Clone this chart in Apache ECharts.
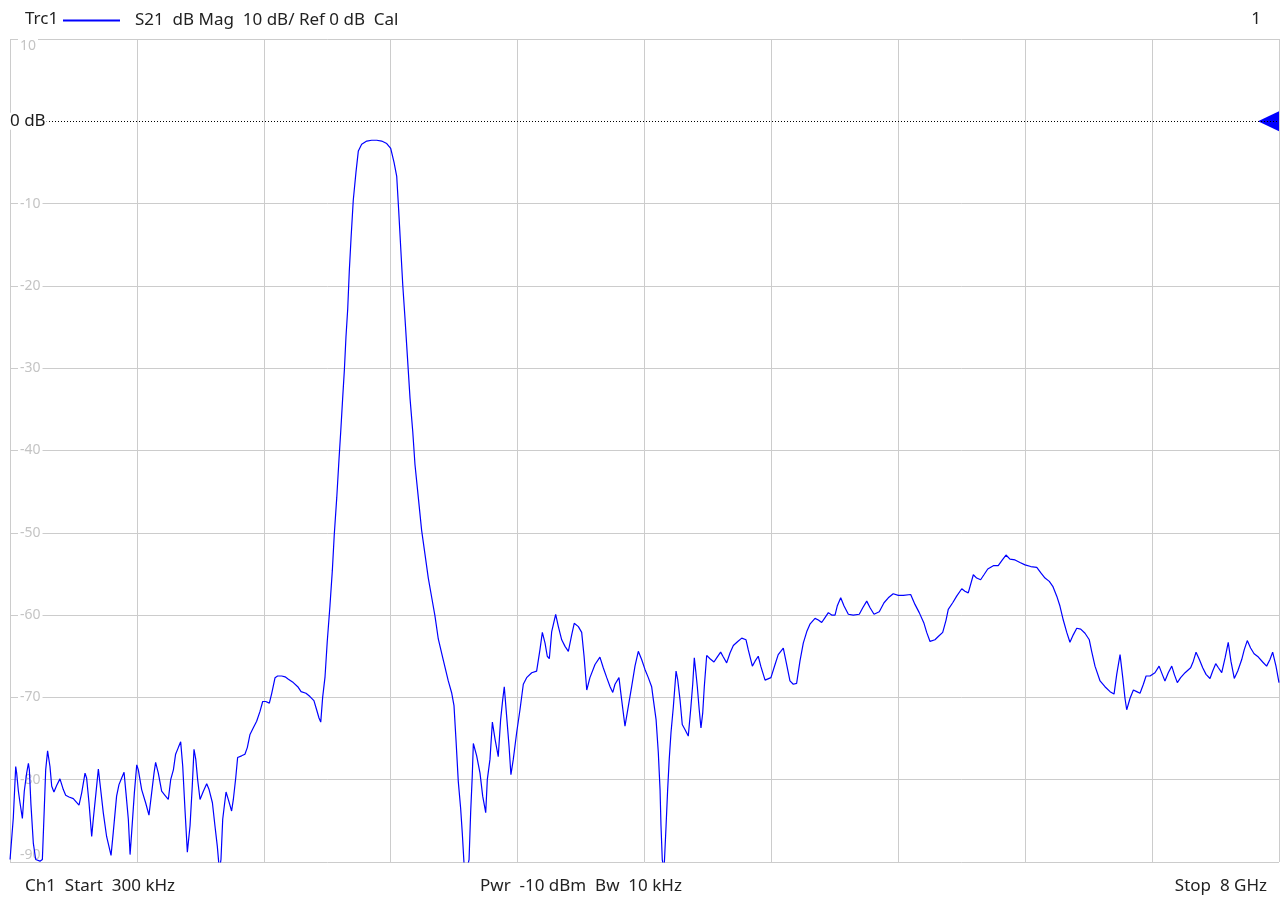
<!DOCTYPE html>
<html>
<head>
<meta charset="utf-8">
<script src="https://cdn.jsdelivr.net/npm/echarts@6/dist/echarts.min.js"></script>
<style>
html,body{margin:0;padding:0;background:#fff;}
#chart{width:1281px;height:897px;}
</style>
</head>
<body>
<div id="chart"></div>
<script>
// Frequency (GHz) of each trace point
const freqGHz = [
0.0003,0.021,0.036,0.042,0.053,0.063,0.078,0.090,0.105,0.116,0.122,0.132,0.147,0.162,0.189,0.204,0.216,0.225,0.237,0.252,
0.263,0.277,0.294,0.315,0.336,0.351,0.372,0.399,0.435,0.452,0.473,0.483,0.498,0.515,0.525,0.542,0.557,0.567,0.588,0.609,
0.637,0.651,0.672,0.687,0.704,0.719,0.731,0.746,0.757,0.767,0.784,0.799,0.809,0.830,0.855,0.876,0.893,0.908,0.918,0.935,
0.956,0.977,0.998,1.013,1.030,1.044,1.061,1.076,1.089,1.103,1.118,1.135,1.149,1.160,1.171,1.183,1.198,1.219,1.240,1.255,
1.276,1.292,1.307,1.320,1.330,1.341,1.351,1.362,1.376,1.397,1.408,1.423,1.435,1.460,1.481,1.496,1.513,1.534,1.555,1.576,
1.593,1.612,1.635,1.650,1.671,1.687,1.713,1.734,1.755,1.786,1.814,1.835,1.866,1.891,1.916,1.933,1.948,1.959,1.971,1.986,
2.000,2.017,2.032,2.044,2.060,2.074,2.085,2.097,2.108,2.118,2.129,2.139,2.150,2.164,2.181,2.196,2.217,2.249,2.280,2.312,
2.343,2.375,2.400,2.421,2.438,2.450,2.463,2.476,2.490,2.505,2.522,2.539,2.553,2.574,2.595,2.616,2.637,2.658,2.679,2.700,
2.732,2.763,2.785,2.799,2.812,2.826,2.841,2.851,2.862,2.879,2.894,2.904,2.914,2.921,2.942,2.963,2.980,2.999,3.009,3.026,
3.041,3.058,3.078,3.093,3.106,3.116,3.131,3.146,3.158,3.173,3.194,3.215,3.236,3.257,3.289,3.320,3.341,3.356,3.373,3.387,
3.400,3.415,3.440,3.457,3.478,3.499,3.520,3.541,3.557,3.583,3.604,3.619,3.636,3.656,3.688,3.719,3.740,3.762,3.783,3.800,
3.814,3.839,3.856,3.877,3.898,3.919,3.940,3.961,3.982,4.003,4.024,4.045,4.056,4.073,4.087,4.098,4.104,4.112,4.123,4.136,
4.146,4.156,4.167,4.182,4.199,4.209,4.224,4.238,4.255,4.276,4.291,4.304,4.314,4.323,4.333,4.345,4.356,4.367,4.377,4.392,
4.413,4.438,4.455,4.480,4.497,4.518,4.539,4.560,4.588,4.613,4.640,4.654,4.680,4.697,4.717,4.733,4.760,4.797,4.823,4.843,
4.875,4.896,4.917,4.938,4.959,4.980,5.001,5.023,5.043,5.075,5.096,5.117,5.138,5.159,5.180,5.201,5.215,5.237,5.258,5.285,
5.316,5.354,5.376,5.401,5.422,5.447,5.480,5.510,5.537,5.568,5.600,5.632,5.678,5.705,5.732,5.762,5.779,5.800,5.831,5.852,
5.880,5.901,5.915,5.943,5.968,6.000,6.020,6.041,6.073,6.094,6.119,6.140,6.164,6.199,6.230,6.256,6.279,6.304,6.336,6.367,
6.399,6.435,6.473,6.500,6.525,6.552,6.574,6.599,6.619,6.640,6.662,6.682,6.703,6.725,6.750,6.777,6.804,6.819,6.840,6.872,
6.903,6.935,6.960,6.977,6.998,7.015,7.029,7.040,7.061,7.082,7.103,7.124,7.145,7.162,7.187,7.218,7.244,7.264,7.281,7.302,
7.324,7.340,7.359,7.380,7.408,7.443,7.460,7.477,7.498,7.519,7.540,7.565,7.582,7.601,7.618,7.639,7.660,7.680,7.697,7.718,
7.740,7.765,7.781,7.800,7.821,7.843,7.870,7.897,7.922,7.943,7.960,7.981,8.000
];
// S21 magnitude (dB) at each point
const s21dB = [
-89.7,-84.6,-78.4,-79.2,-81.4,-82.8,-84.7,-81.4,-79.2,-78.0,-78.8,-83.0,-87.7,-89.7,-89.9,-89.7,-83.6,-78.8,-76.5,-78.4,
-80.8,-81.5,-80.7,-79.9,-81.2,-81.9,-82.1,-82.3,-83.1,-81.6,-79.2,-79.8,-82.8,-86.9,-84.8,-81.6,-78.7,-80.4,-84.0,-86.9,
-89.2,-86.4,-82.0,-80.6,-79.8,-79.1,-81.6,-84.8,-89.1,-86.4,-81.6,-78.2,-78.8,-81.2,-82.8,-84.3,-81.6,-79.2,-77.9,-79.2,
-81.4,-81.9,-82.4,-80.0,-78.8,-76.9,-76.1,-75.4,-78.4,-83.6,-88.8,-85.6,-80.8,-76.3,-77.5,-80.0,-82.4,-81.4,-80.5,-81.2,
-82.8,-85.6,-88.1,-91.0,-89.7,-84.8,-83.2,-81.5,-82.4,-83.8,-82.4,-79.8,-77.3,-77.1,-76.9,-76.1,-74.5,-73.7,-72.9,-71.7,
-70.5,-70.5,-70.7,-69.5,-67.6,-67.4,-67.4,-67.5,-67.8,-68.2,-68.7,-69.3,-69.5,-69.9,-70.4,-71.5,-72.5,-73.0,-70.0,-67.5,
-63.2,-58.9,-54.6,-50.3,-45.7,-41.1,-37.7,-33.7,-30.2,-26.2,-22.8,-18.2,-14.2,-9.6,-6.2,-3.6,-2.8,-2.4,-2.3,-2.3,
-2.4,-2.7,-3.3,-5.0,-6.7,-10.7,-15.3,-19.9,-23.9,-28.5,-33.7,-37.7,-41.7,-45.7,-49.7,-52.6,-55.5,-57.8,-60.1,-62.9,
-65.5,-68.0,-69.5,-71.0,-75.3,-80.2,-83.5,-86.4,-90.1,-91.0,-89.7,-84.0,-79.6,-75.6,-77.1,-79.2,-82.0,-84.0,-80.0,-77.5,
-73.0,-75.1,-77.2,-72.7,-70.3,-68.7,-72.3,-75.9,-79.4,-77.5,-74.3,-71.5,-68.4,-67.6,-67.0,-66.8,-64.2,-62.1,-63.4,-65.0,
-65.3,-62.0,-59.9,-61.4,-63.0,-63.8,-64.4,-62.4,-61.0,-61.4,-62.1,-65.0,-69.1,-67.6,-66.0,-65.1,-66.4,-67.6,-68.7,-69.4,
-68.4,-67.6,-70.3,-73.5,-71.1,-68.7,-66.2,-64.4,-65.4,-66.6,-67.6,-68.7,-70.3,-72.7,-76.7,-81.2,-85.6,-89.7,-91.0,-85.6,
-81.2,-77.5,-74.3,-71.1,-66.8,-67.8,-70.3,-73.3,-73.9,-74.7,-71.5,-68.4,-65.2,-66.8,-68.7,-71.5,-73.7,-71.9,-68.7,-64.9,
-65.3,-65.7,-65.2,-64.5,-65.1,-65.8,-64.6,-63.7,-63.2,-62.8,-63.0,-64.2,-66.2,-65.6,-65.0,-66.2,-67.9,-67.6,-66.0,-64.8,
-64.0,-66.0,-68.0,-68.4,-68.3,-65.6,-63.4,-62.0,-61.1,-60.4,-60.6,-60.9,-60.3,-59.7,-60.0,-60.0,-58.9,-57.9,-58.9,-59.9,
-60.0,-59.9,-59.1,-58.3,-59.1,-59.9,-59.6,-58.5,-57.9,-57.4,-57.6,-57.6,-57.5,-58.7,-59.7,-61.0,-62.1,-63.2,-63.0,-62.6,
-62.1,-60.6,-59.3,-58.5,-57.7,-56.8,-57.1,-57.3,-55.1,-55.5,-55.7,-55.1,-54.4,-54.0,-54.0,-53.3,-52.7,-53.2,-53.3,-53.6,
-53.9,-54.1,-54.2,-54.9,-55.5,-55.9,-56.5,-57.7,-58.9,-60.6,-62.1,-63.3,-62.4,-61.6,-61.7,-62.2,-63.0,-64.4,-66.2,-68.0,
-68.7,-69.3,-69.6,-67.2,-64.8,-67.6,-70.1,-71.5,-70.1,-69.1,-69.3,-69.5,-68.4,-67.4,-67.4,-67.0,-66.2,-67.2,-68.0,-67.0,
-66.2,-67.2,-68.2,-67.6,-67.0,-66.4,-65.6,-64.5,-65.4,-66.4,-67.2,-67.7,-66.8,-65.9,-66.4,-67.0,-65.2,-63.3,-65.6,-67.7,
-66.8,-65.4,-64.2,-63.1,-64.0,-64.7,-65.1,-65.7,-66.2,-65.4,-64.5,-66.2,-68.2
];
const yTicks = [-90, -80, -70, -60, -50, -40, -30, -20, -10, 0, 10];
const refLevel = 0;
const traceName = 'S21  dB Mag  10 dB/ Ref 0 dB  Cal';
const headerLeft = 'Trc1';
const headerRight = '1';
const footStart = 'Ch1  Start  300 kHz';
const footMid = 'Pwr  -10 dBm  Bw  10 kHz';
const footStop = 'Stop  8 GHz';

const traceData = freqGHz.map((f, i) => [f, s21dB[i]]);
const FONT = 'Noto Sans';
const TXT = {fontFamily: FONT, fontSize: 17, fontWeight: 'normal', color: '#222'};
const gridColors = yTicks.map(v => v === refLevel ? 'rgba(0,0,0,0)' : '#cccccc');

const chart = echarts.init(document.getElementById('chart'), null, {renderer: 'canvas'});
chart.setOption({
  animation: false,
  backgroundColor: '#ffffff',
  textStyle: {fontFamily: FONT},
  title: [
    {text: headerLeft, left: 20, top: 6, textStyle: TXT},
    {text: headerRight, right: 15, top: 6, textStyle: TXT},
    {text: footStart, left: 20, top: 873, textStyle: TXT},
    {text: footMid, left: 475, top: 873, textStyle: TXT},
    {text: footStop, right: 9, top: 873, textStyle: TXT}
  ],
  legend: {
    data: [traceName],
    left: 58, top: 7,
    icon: 'rect', itemWidth: 57, itemHeight: 2,
    textStyle: {fontFamily: FONT, fontSize: 17, color: '#222', padding: [0, 0, 0, 10]},
    selectedMode: false
  },
  grid: {left: 10, right: 2, top: 39, bottom: 35, containLabel: false},
  xAxis: {
    type: 'value', min: 0, max: 8, interval: 0.8,
    axisLine: {show: false}, axisTick: {show: false}, axisLabel: {show: false},
    splitLine: {show: true, showMinLine: true, showMaxLine: true, lineStyle: {color: '#cccccc', width: 1}}
  },
  yAxis: [
    {
      type: 'value', min: -90, max: 10, interval: 10, position: 'left', z: 0,
      axisLine: {show: false}, axisTick: {show: false},
      splitLine: {show: true, showMinLine: true, showMaxLine: true, lineStyle: {color: gridColors, width: 1}},
      axisLabel: {
        inside: true, margin: 8, color: '#c4c4c4', fontSize: 14, fontFamily: FONT,
        backgroundColor: '#ffffff', padding: [0, 2],
        verticalAlignMinLabel: 'bottom', verticalAlignMaxLabel: 'top',
        formatter: v => (v === refLevel ? '' : String(v))
      }
    },
    {
      type: 'value', min: -90, max: 10, interval: 10, position: 'left', z: 10,
      axisLine: {show: false}, axisTick: {show: false}, splitLine: {show: false},
      axisLabel: {
        inside: true, margin: 0, color: '#1a1a1a', fontSize: 17, fontFamily: FONT,
        backgroundColor: '#ffffff', padding: [0, 1, 0, 0],
        formatter: v => (v === refLevel ? refLevel + ' dB' : '')
      }
    }
  ],
  series: [
    {
      name: traceName, type: 'line', data: traceData, yAxisIndex: 0,
      symbol: 'none', clip: true, z: 3,
      lineStyle: {color: '#0000ff', width: 1.2},
      itemStyle: {color: '#0000ff'},
      markLine: {
        silent: true, symbol: ['none', 'none'], label: {show: false},
        lineStyle: {color: '#000000', type: [1, 2], width: 1},
        data: [{yAxis: refLevel}]
      }
    },
    {
      name: 'ref', type: 'scatter', yAxisIndex: 0, clip: false, z: 4,
      data: [[8, refLevel]],
      symbol: 'triangle', symbolSize: [20, 21], symbolRotate: 90, symbolOffset: [-10.5, 0],
      itemStyle: {color: '#0000ff', opacity: 1}, silent: true
    }
  ]
});
</script>
</body>
</html>
